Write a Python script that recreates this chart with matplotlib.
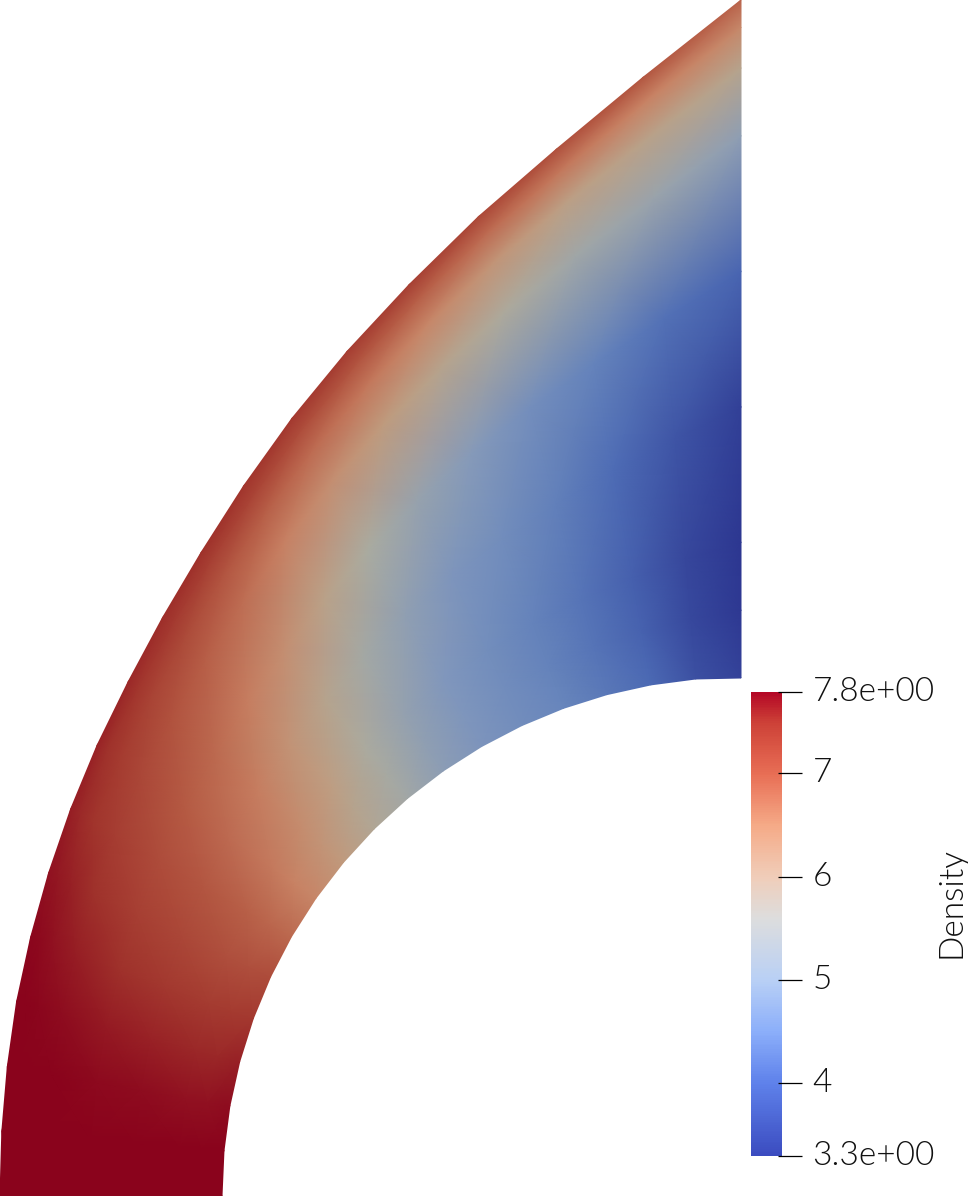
import matplotlib

matplotlib.use("Agg")
import matplotlib.pyplot as plt
import numpy as np
from matplotlib.cm import ScalarMappable
from matplotlib.colors import LinearSegmentedColormap, Normalize
from matplotlib.transforms import ScaledTranslation

plt.rcParams["font.family"] = ["Lato", "DejaVu Sans"]
plt.rcParams["font.weight"] = 300

# sections through the shell (radius in picture pixels)
angle_deg = [0, 5, 10, 15, 20, 25, 30, 35, 40, 45, 50, 55, 60, 65, 70, 75, 80, 85, 90]
outer_radius = [741, 742, 745, 750, 756, 764, 774, 786, 800, 818, 840, 867, 898, 932, 970, 1014, 1063, 1123, 1196]
inner_radius = [519, 519, 519, 519, 519, 519, 519, 519, 519, 519, 519, 519, 519, 519, 519, 519, 519, 519, 518]
radial_frac = [0.0, 0.1, 0.2, 0.4, 0.6, 0.8, 0.9, 0.96, 1.0]

# one row per angle, one column per radial fraction
density = [
    [7.80, 7.80, 7.80, 7.80, 7.80, 7.80, 7.80, 7.80, 7.80],
    [7.78, 7.78, 7.78, 7.78, 7.80, 7.80, 7.80, 7.80, 7.80],
    [7.72, 7.70, 7.70, 7.72, 7.75, 7.78, 7.80, 7.80, 7.80],
    [7.60, 7.56, 7.55, 7.58, 7.64, 7.72, 7.76, 7.78, 7.80],
    [7.42, 7.38, 7.36, 7.42, 7.50, 7.62, 7.70, 7.74, 7.76],
    [7.15, 7.12, 7.12, 7.22, 7.33, 7.50, 7.60, 7.66, 7.70],
    [6.80, 6.84, 6.90, 7.03, 7.15, 7.35, 7.47, 7.56, 7.62],
    [6.42, 6.50, 6.60, 6.78, 6.98, 7.22, 7.38, 7.50, 7.58],
    [6.08, 6.18, 6.32, 6.55, 6.80, 7.08, 7.28, 7.45, 7.55],
    [5.75, 5.85, 5.98, 6.20, 6.55, 6.92, 7.18, 7.40, 7.52],
    [5.48, 5.54, 5.62, 5.85, 6.28, 6.74, 7.05, 7.32, 7.50],
    [5.15, 5.22, 5.28, 5.52, 5.92, 6.52, 6.92, 7.25, 7.45],
    [4.90, 4.93, 4.98, 5.22, 5.60, 6.28, 6.78, 7.15, 7.40],
    [4.68, 4.68, 4.70, 4.92, 5.32, 6.05, 6.62, 7.05, 7.35],
    [4.50, 4.45, 4.45, 4.68, 5.05, 5.85, 6.42, 6.92, 7.30],
    [4.25, 4.20, 4.20, 4.38, 4.72, 5.65, 6.18, 6.78, 7.20],
    [4.02, 3.92, 3.88, 4.05, 4.45, 5.45, 5.95, 6.62, 7.10],
    [3.65, 3.55, 3.52, 3.72, 4.15, 5.35, 5.90, 6.50, 7.00],
    [3.45, 3.32, 3.30, 3.42, 3.95, 5.20, 5.85, 6.40, 6.85],
]

bar_ticks = [3.29, 4, 5, 6, 7, 7.79]
bar_labels = ["3.3e+00", "4", "5", "6", "7", "7.8e+00"]

# colour maps, the lit surface is dimmer and warmer than the bar
cmap_values = [3.29, 4.0, 4.5, 5.0, 5.6, 6.0, 6.5, 7.0, 7.5, 7.79]
bar_colors = [
    (59, 76, 192),
    (95, 130, 235),
    (140, 175, 250),
    (185, 208, 245),
    (221, 221, 221),
    (240, 205, 185),
    (245, 170, 135),
    (232, 110, 85),
    (205, 65, 55),
    (180, 8, 38),
]
surface_colors = [
    (45, 55, 145),
    (75, 105, 180),
    (105, 135, 188),
    (130, 152, 188),
    (170, 171, 160),
    (190, 158, 130),
    (200, 130, 100),
    (180, 88, 66),
    (160, 50, 43),
    (138, 3, 28),
]

norm = Normalize(min(cmap_values), max(cmap_values))
stops = [norm(v) for v in cmap_values]
bar_cmap = LinearSegmentedColormap.from_list(
    "bar", [(s, np.array(c) / 255) for s, c in zip(stops, bar_colors)], N=256
)
surface_cmap = LinearSegmentedColormap.from_list(
    "surface", [(s, np.array(c) / 255) for s, c in zip(stops, surface_colors)], N=256
)

fig = plt.figure(figsize=(9.68, 11.96), dpi=100)
ax = fig.add_axes([0, 0, 1, 1])

theta = np.radians(angle_deg)[:, None]
frac = np.array(radial_frac)[None, :]
inner = np.array(inner_radius)[:, None]
outer = np.array(outer_radius)[:, None]
radius = inner + (outer - inner) * frac
x = 741 - radius * np.cos(theta)
y = 1196 - radius * np.sin(theta)

ax.pcolormesh(x, y, np.array(density), shading="gouraud", cmap=surface_cmap, norm=norm)
ax.set_xlim(0, 968)
ax.set_ylim(1196, 0)
ax.axis("off")

cax = fig.add_axes([751 / 968, 1 - 1156 / 1196, 31 / 968, 464 / 1196])
cbar = fig.colorbar(ScalarMappable(norm=norm, cmap=bar_cmap), cax=cax, ticks=bar_ticks)
cbar.outline.set_visible(False)
cbar.ax.set_yticklabels(bar_labels)
cax.tick_params(axis="y", length=0, pad=22, labelsize=24, labelcolor="#111111")
for label in cax.get_yticklabels():
    label.set_transform(label.get_transform() + ScaledTranslation(0, 0.03, fig.dpi_scale_trans))
cax.hlines(
    bar_ticks, 0.87, 1.65, color="black", lw=0.9,
    transform=cax.get_yaxis_transform(), clip_on=False,
)
fig.text(951 / 968, 1 - 902 / 1196, "Density", rotation=90, fontsize=24,
         ha="center", va="center", color="#111111")

fig.savefig("out.png", dpi=100)
